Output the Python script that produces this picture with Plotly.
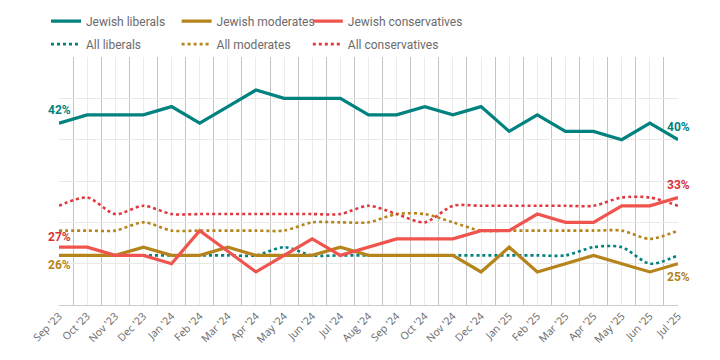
import plotly.graph_objects as go

months = ["Sep '23", "Oct '23", "Nov '23", "Dec '23", "Jan '24", "Feb '24", "Mar '24",
          "Apr '24", "May '24", "Jun '24", "Jul '24", "Aug '24", "Sep '24", "Oct '24",
          "Nov '24", "Dec '24", "Jan '25", "Feb '25", "Mar '25", "Apr '25", "May '25",
          "Jun '25", "Jul '25"]

jewish_liberals = [42, 43, 43, 43, 44, 42, 44, 46, 45, 45, 45, 43, 43, 44, 43, 44, 41, 43, 41, 41, 40, 42, 40]
jewish_moderates = [26, 26, 26, 27, 26, 26, 27, 26, 26, 26, 27, 26, 26, 26, 26, 24, 27, 24, 25, 26, 25, 24, 25]
jewish_conservatives = [27, 27, 26, 26, 25, 29, 26.5, 24, 26, 28, 26, 27, 28, 28, 28, 29, 29, 31, 30, 30, 32, 32, 33]
all_liberals = [26, 26, 26, 26, 26, 26, 26, 26, 27, 26, 26, 26, 26, 26, 26, 26, 26, 26, 26, 27, 27, 25, 26]
all_moderates = [29, 29, 29, 30, 29, 29, 29, 29, 29, 30, 30, 30, 31, 31, 30, 29, 29, 29, 29, 29, 29, 28, 29]
all_conservatives = [32, 33, 31, 32, 31, 31, 31, 31, 31, 31, 31, 32, 31, 30, 32, 32, 32, 32, 32, 32, 33, 33, 32]

TEAL = "#00827f"
GOLD = "#b5851b"
RED = "#f0544f"
RED_DOT = "#e0383e"
RED_LABEL = "#d63238"

x = list(range(len(months)))

fig = go.Figure()

# (name, values, colour, dash, legend id, legend x, legend y)
series = [
    ("Jewish liberals", jewish_liberals, TEAL, "solid", "legend", -0.021, 1.145),
    ("Jewish moderates", jewish_moderates, GOLD, "solid", "legend2", 0.190, 1.145),
    ("Jewish conservatives", jewish_conservatives, RED, "solid", "legend3", 0.402, 1.145),
    ("All liberals", all_liberals, TEAL, "dot", "legend4", -0.021, 1.052),
    ("All moderates", all_moderates, GOLD, "dot", "legend5", 0.190, 1.052),
    ("All conservatives", all_conservatives, RED_DOT, "dot", "legend6", 0.402, 1.052),
]

legend_common = dict(orientation="h", xanchor="left", yanchor="middle",
                     font=dict(family="Roboto", size=12, color="#6b6b6b"),
                     itemwidth=30, bgcolor="rgba(0,0,0,0)", itemclick=False)

legends = {}
order = [3, 4, 5, 0, 1, 2]
for k in order:
    name, vals, col, dash, leg, lx, ly = series[k]
    if dash == "dot":
        line = dict(color=col, width=2.6, dash="dot", shape="spline", smoothing=0.8)
    else:
        line = dict(color=col, width=3.2)
    fig.add_trace(go.Scatter(x=x, y=vals, mode="lines", name=name, line=line,
                             legend=leg, hoverinfo="skip"))
    legends[leg] = dict(x=lx, y=ly, **legend_common)

def lab(xi, yv, text, col, yshift):
    fig.add_annotation(x=xi, y=yv, text=text, showarrow=False, yshift=yshift,
                       font=dict(family="Roboto", size=12, color=col, weight="bold"))

lab(0, jewish_liberals[0], f"{jewish_liberals[0]}%", TEAL, 13)
lab(0, jewish_conservatives[0], f"{jewish_conservatives[0]}%", RED_LABEL, 10)
lab(0, jewish_moderates[0], f"{jewish_moderates[0]}%", GOLD, -10)
lab(22, jewish_liberals[-1], f"{jewish_liberals[-1]}%", TEAL, 13)
lab(22, jewish_conservatives[-1], f"{jewish_conservatives[-1]}%", RED_LABEL, 13)
lab(22, jewish_moderates[-1], f"{jewish_moderates[-1]}%", GOLD, -13)

fig.update_layout(
    width=720, height=360,
    margin=dict(l=51, r=50, t=49, b=63, autoexpand=False),
    paper_bgcolor="white", plot_bgcolor="white",
    xaxis=dict(
        range=[0, 22], tickvals=x, ticktext=months, tickangle=-45,
        tickfont=dict(family="Open Sans", size=10.5, color="#666666"),
        showgrid=True, gridcolor="#ebebeb", gridwidth=1,
        minor=dict(tickvals=[i + 0.5 for i in range(22)], showgrid=True,
                   gridcolor="#c4c4c4", gridwidth=1),
        showline=True, linecolor="#cccccc", linewidth=1,
        zeroline=False, ticks="", fixedrange=True, automargin=False,
    ),
    yaxis=dict(
        range=[20, 50], dtick=5, showticklabels=False,
        showgrid=True, gridcolor="#e8e8e8", gridwidth=1,
        zeroline=False, fixedrange=True, automargin=False,
    ),
    showlegend=True,
    **legends,
)

fig.write_html("out.html")
